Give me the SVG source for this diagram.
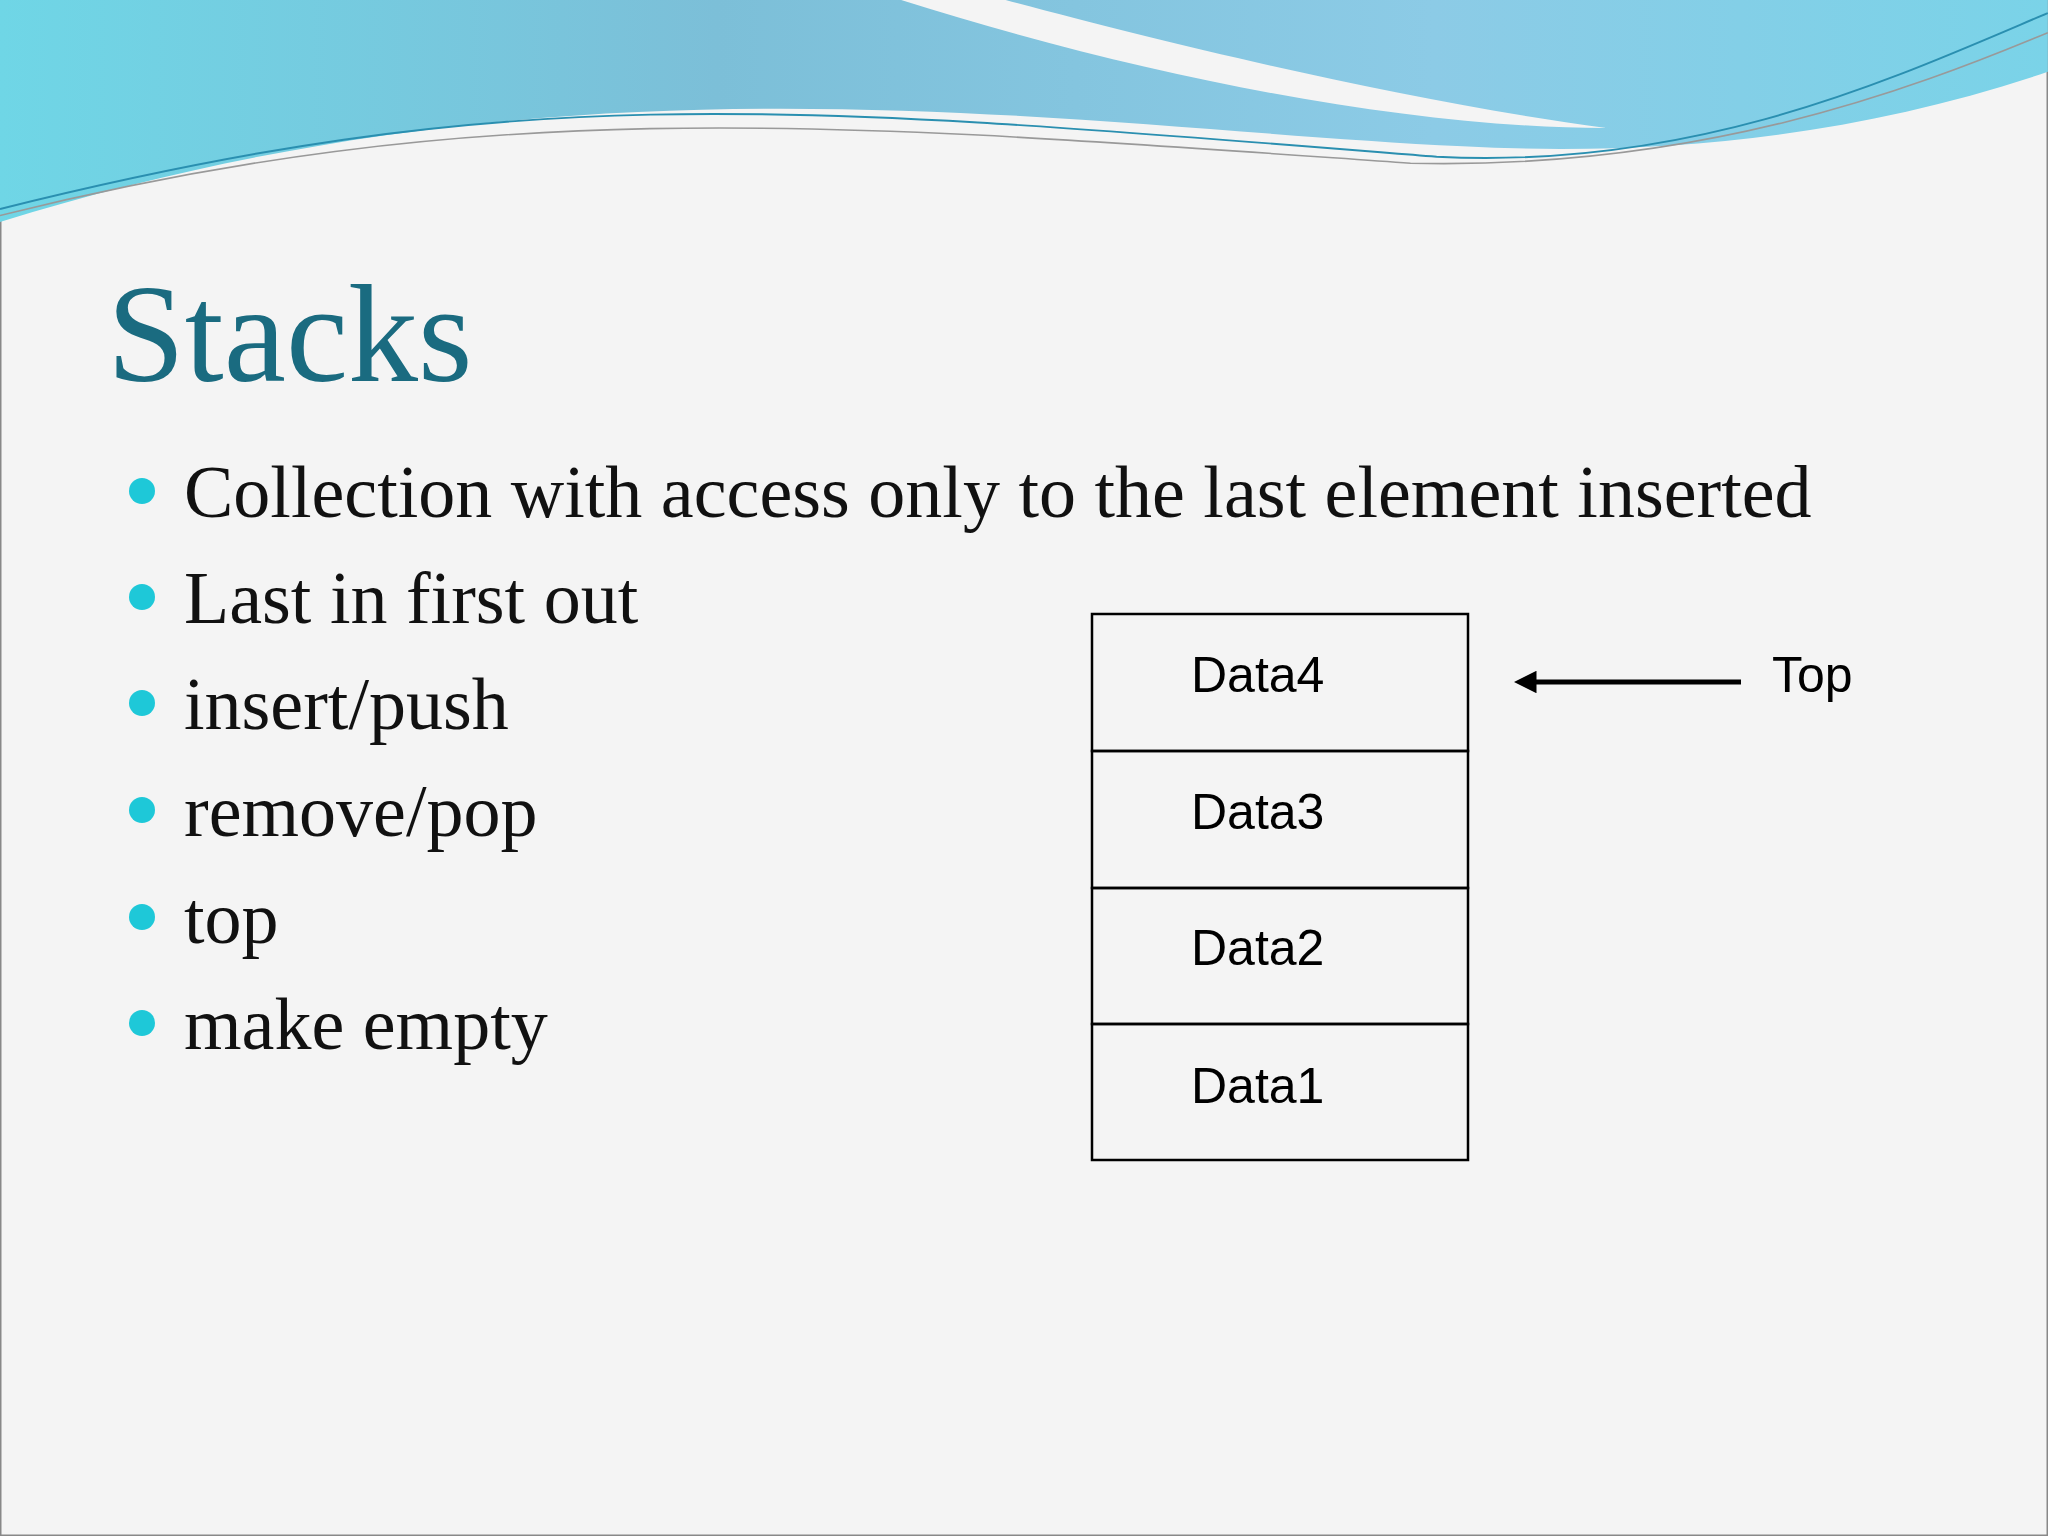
<svg xmlns="http://www.w3.org/2000/svg" width="2048" height="1536" viewBox="0 0 2048 1536">
<defs>
<linearGradient id="band" x1="0" y1="0" x2="1" y2="0">
<stop offset="0" stop-color="#6fd6e6"/><stop offset="0.35" stop-color="#7cbfd8"/><stop offset="0.7" stop-color="#8ccbe6"/><stop offset="1" stop-color="#7ad3e8"/>
</linearGradient>
<marker id="ah" viewBox="0 0 10 10" refX="2" refY="5" markerWidth="4.5" markerHeight="4.5" orient="auto"><path d="M0,0 L10,5 L0,10 Z" fill="#000"/></marker>
<style>
.b{font-family:"Liberation Serif",serif;font-size:74px;fill:#111}
.d{font-family:"Liberation Sans",Arial,sans-serif;font-size:50px;fill:#000}
.dot{fill:#1ec8d8}
.cell{fill:none;stroke:#000;stroke-width:2.5}
</style>
</defs>
<rect width="2048" height="1536" fill="#f4f4f4" stroke="#888" stroke-width="3"/>
<g transform="scale(1.306)">
<path d="M0,0 H1568 V55 C1420,105 1270,120 1120,112 C820,98 450,30 0,170 Z" fill="url(#band)"/>
<path d="M690,0 C880,60 1080,98 1230,98 C1080,78 900,35 770,0 Z" fill="#f4f4f4"/>
<path d="M0,160 C400,60 600,80 1100,120 C1300,130 1450,60 1568,10" fill="none" stroke="#2a8fb0" stroke-width="1.5"/>
<path d="M0,165 C380,70 650,95 1080,125 C1300,130 1460,70 1568,25" fill="none" stroke="#999" stroke-width="1.2"/>
</g>
<text x="107" y="381" font-family="Liberation Serif,serif" font-size="140" fill="#1a6b80">Stacks</text>
<g id="bullets">
<circle class="dot" cx="142" cy="491" r="13"/><text class="b" x="184" y="517">Collection with access only to the last element inserted</text>
<circle class="dot" cx="142" cy="597" r="13"/><text class="b" x="184" y="623">Last in first out</text>
<circle class="dot" cx="142" cy="703" r="13"/><text class="b" x="184" y="729">insert/push</text>
<circle class="dot" cx="142" cy="810" r="13"/><text class="b" x="184" y="836">remove/pop</text>
<circle class="dot" cx="142" cy="917" r="13"/><text class="b" x="184" y="943">top</text>
<circle class="dot" cx="142" cy="1023" r="13"/><text class="b" x="184" y="1049">make empty</text>
</g>
<g id="data4"><rect class="cell" x="1092" y="614" width="376" height="137"/><text class="d" x="1191" y="692">Data4</text></g>
<g id="data3"><rect class="cell" x="1092" y="751" width="376" height="137"/><text class="d" x="1191" y="829">Data3</text></g>
<g id="data2"><rect class="cell" x="1092" y="888" width="376" height="136"/><text class="d" x="1191" y="965">Data2</text></g>
<g id="data1"><rect class="cell" x="1092" y="1024" width="376" height="136"/><text class="d" x="1191" y="1103">Data1</text></g>
<g id="top"><text class="d" x="1772" y="692">Top</text></g>
<g id="connectors"><line x1="1741" y1="682" x2="1532" y2="682" stroke="#000" stroke-width="5" marker-end="url(#ah)"/></g>
</svg>
